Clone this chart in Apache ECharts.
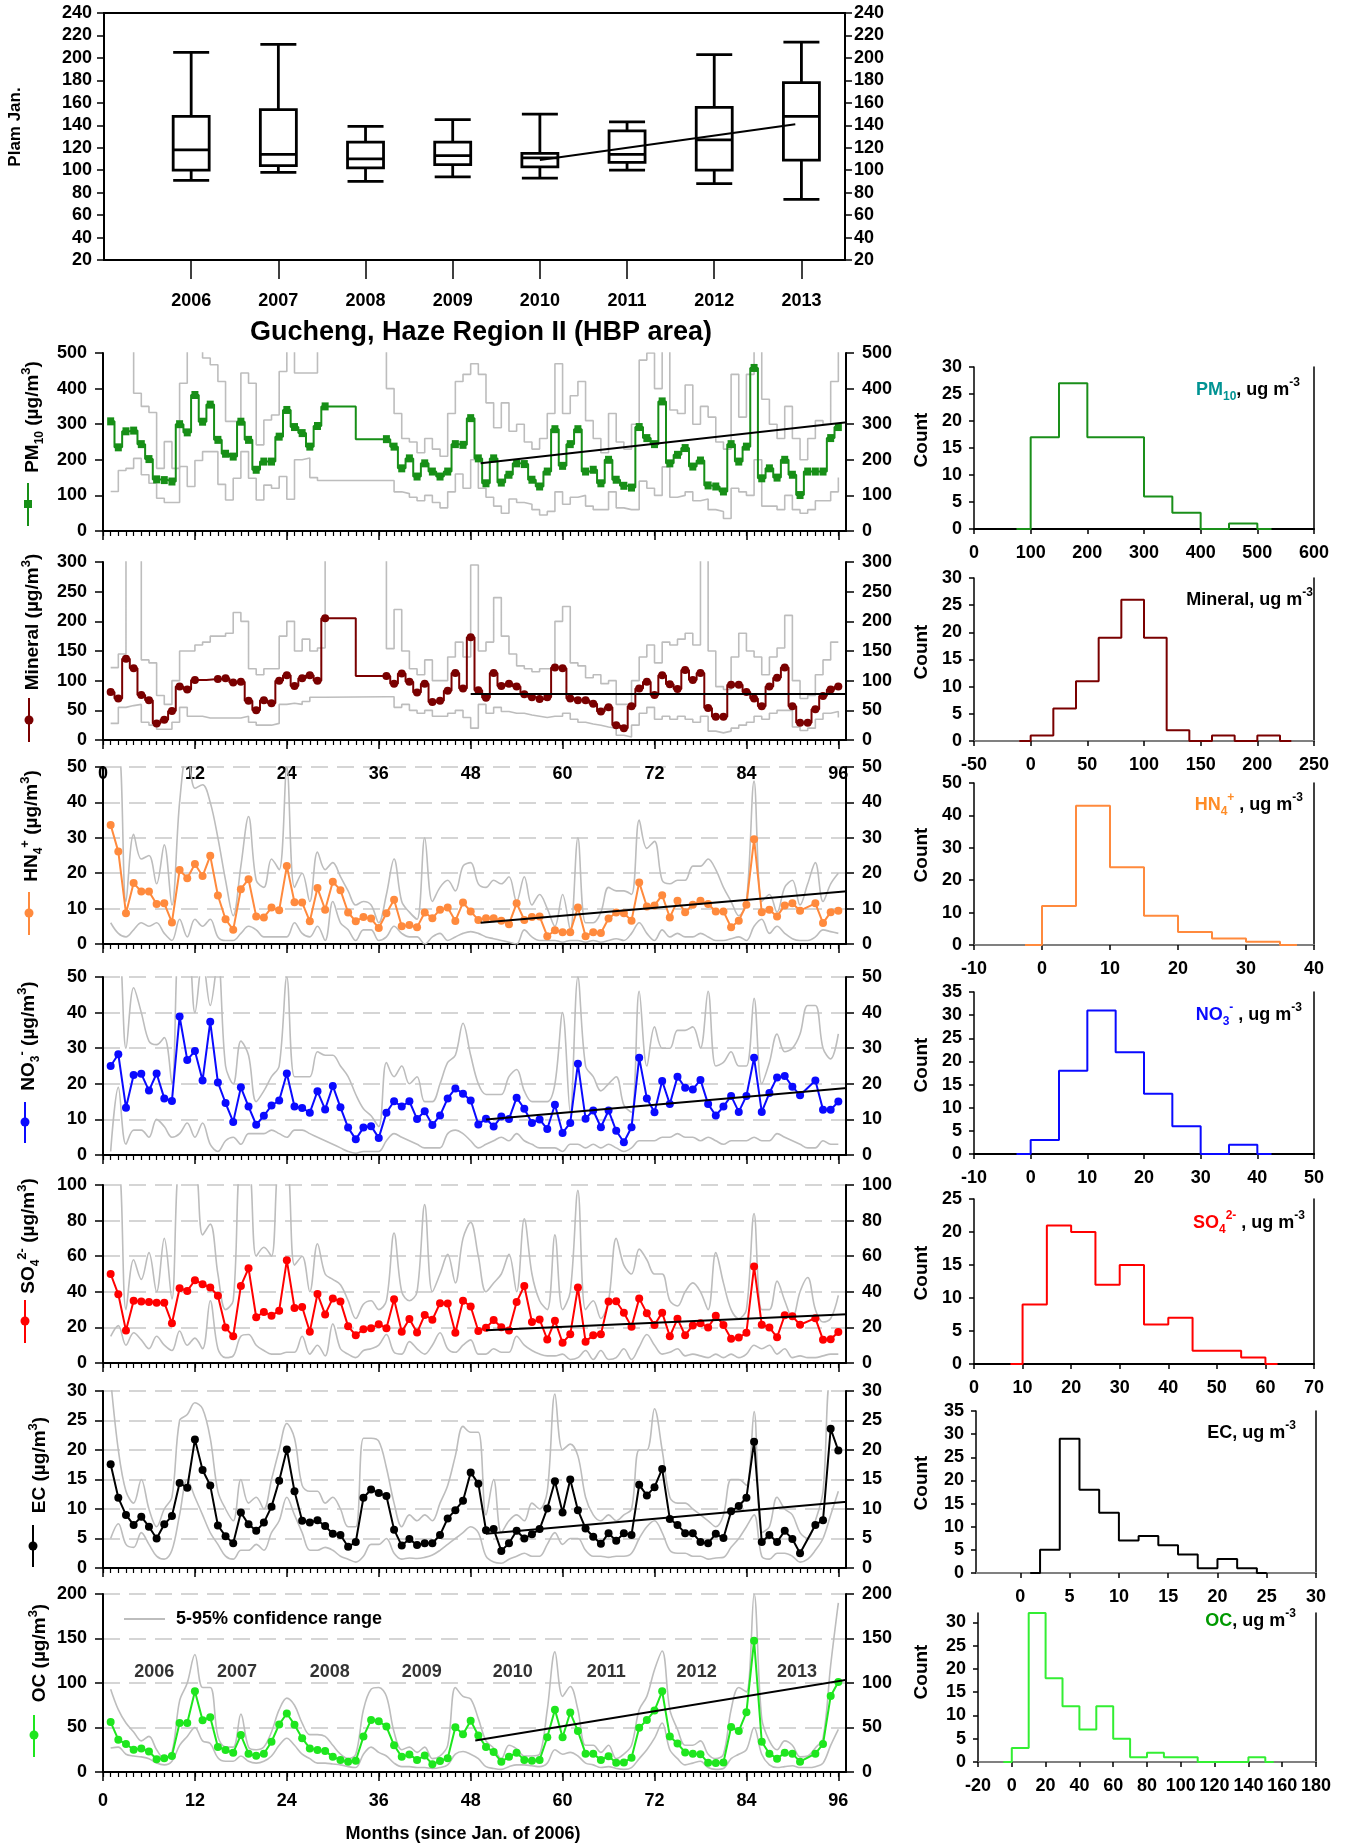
<!DOCTYPE html>
<html>
<head>
<meta charset="utf-8">
<script src="https://cdn.jsdelivr.net/npm/echarts@6/dist/echarts.min.js"></script>
<style>
html, body { margin: 0; padding: 0; background: #fff; }
#chart { width: 1346px; height: 1845px; }
</style>
</head>
<body>
<div id="chart"></div>
<script>
// ---- top box plot (January PM) ----
var boxYears = [2006, 2007, 2008, 2009, 2010, 2011, 2012, 2013];
var boxLow = [91, 98, 90, 94, 93, 100, 88, 74];
var boxQ1 = [100, 104, 102, 105, 103, 107, 100, 109];
var boxMedian = [118, 114, 110, 113, 111, 114, 127, 148];
var boxQ3 = [148, 154, 125, 125, 115, 135, 156, 178];
var boxHigh = [205, 212, 139, 145, 150, 143, 203, 214];
var boxTrend = [[2010, 109], [2012.93, 141]];

// ---- monthly series, months 1..96 ----
var monthTicks = [0, 12, 24, 36, 48, 60, 72, 84, 96];
var yearNames = ['2006', '2007', '2008', '2009', '2010', '2011', '2012', '2013'];
var yearNameMonths = [6.7, 17.5, 29.6, 41.6, 53.5, 65.7, 77.5, 90.6];

var pm10Values = [308,235,280,282,244,202,145,143,139,300, 277,382,307,355,256,217,209,307,256,172,
  195,195,265,340,292,275,237,295,350,null, null,null,null,null,null,null,258,237,176,204,
  153,190,167,153,167,244,242,317,204,134, 204,136,158,190,188,144,125,167,286,183,
  244,286,167,172,134,200,144,127,122,292, 261,244,364,190,214,233,181,198,128,125,
  111,244,195,237,458,148,176,150,200,158, 101,167,167,167,261,292];
var pm10Upper = [560,560,560,387,350,333,176,251,176,415, 560,560,486,467,420,308,308,444,415,242,
  312,326,448,560,444,444,444,560,560,null, null,null,null,null,null,null,400,330,260,250,
  220,260,230,210,330,420,440,470,440,360, 290,360,280,300,250,230,260,330,470,330,
  380,420,310,260,220,330,250,230,300,480, 500,400,560,340,330,410,300,350,320,250,
  230,440,320,440,560,370,300,260,350,260, 200,260,310,300,420,560];
var pm10Lower = [111,170,176,204,158,134,92,80,80,181, 125,198,223,223,131,87,148,223,148,87,
  129,120,153,89,200,205,150,142,142,null, null,null,null,null,null,null,142,110,105,95,
  85,100,80,65,110,160,120,200,120,95, 70,50,90,80,75,60,45,55,110,75,
  95,100,70,60,60,110,65,60,60,140, 120,100,180,95,100,110,85,90,60,55,
  35,120,110,100,200,70,70,60,100,60, 50,60,85,85,110,150];
var pm10Trend = [[49.3, 190], [98.3, 308]];

var mineralValues = [81,70,137,121,76,67,28,34,49,90, 85,101,null,null,103,104,97,98,66,50,
  67,62,100,109,91,104,109,100,205,null, null,null,null,null,null,null,108,95,112,98,
  80,95,64,66,83,113,87,173,84,71, 113,91,95,90,77,72,69,72,122,121,
  70,67,67,61,48,55,25,20,57,87, 98,76,109,94,86,118,101,113,54,39,
  39,93,93,81,70,57,90,105,122,57, 29,29,52,74,85,90];
var mineralUpper = [122,145,400,400,135,130,75,60,100,150, 150,160,165,175,175,180,215,200,120,110,
  120,120,175,200,150,170,150,155,360,null, null,null,null,null,null,null,154,220,150,120,
  110,135,100,100,140,165,140,295,150,165, 240,175,145,125,120,115,120,120,200,225,
  130,125,105,110,95,100,60,60,100,140, 160,130,165,160,170,180,160,400,150,90,
  85,140,180,150,140,110,140,155,210,100, 70,75,110,135,165,165];
var mineralLower = [28,55,58,60,30,25,18,18,30,55, 40,40,37,37,37,37,37,40,30,25,
  25,28,60,62,60,65,72,72,73,null, null,null,null,null,null,null,73,55,60,50,
  45,50,40,40,45,50,38,20,60,45, 55,48,45,45,42,40,38,40,40,45,
  35,30,27,25,22,20,8,5,25,45, 55,35,40,35,40,35,30,40,15,12,
  15,20,25,30,40,35,45,50,50,22, 16,20,35,45,48,38];
var mineralTrend = [[48, 77.5], [98.3, 77.5]];

var nh4Values = [33.6,26.1,8.7,17.2,14.8,14.8,11.3,11.5,6.1,20.9, 18.6,22.6,19.2,24.9,13.7,7.0,4.0,15.5,18.3,7.8,
  7.5,10.3,9.5,22.0,11.8,11.7,6.4,15.8,9.7,17.6, 15.2,8.9,6.4,7.6,7.2,4.5,8.7,12.5,5.0,5.4,
  4.7,8.9,7.3,9.7,10.3,6.5,11.7,9.2,6.8,7.3, 7.3,6.6,5.6,11.5,6.8,7.6,7.8,2.2,3.9,3.3,
  3.3,10.3,2.2,3.3,3.1,7.2,8.9,8.7,6.6,17.4, 10.6,10.9,13.8,7.5,12.2,9.0,11.1,12.2,11.3,9.2,
  9.2,4.7,6.6,11.1,29.6,9.0,9.7,7.8,10.9,11.5, 9.4,null,11.5,5.9,9.0,9.4];
var nh4Upper = [55,55,12,31,24,25,17,28,11,40, 55,44,45,40,30,18,8,22,36,18,
  16,24,21,50,16,20,12,26,21,23, 19,15,11,12,11,6,14,24,12,9,
  7,30,12,16,18,15,22,23,17,16, 18,17,19,12,19,11,14,10,5,14,
  4,30,6,6,9,16,15,15,14,35, 27,29,18,17,18,18,22,22,24,21,
  16,12,8,12,46,12,14,9,16,18, 11,17,23,12,17,20];
var nh4Lower = [6,3,2,4,6,5,6,3,1,7, 2,7,5,7,2,1,1,3,5,4,
  2,2,2,2,6,3,2,5,1,12, 6,4,1,4,4,1,2,5,3,2,
  2,0,2,3,1,2,3,3.5,3,2, 1.5,1,0.5,0,4,2,1,1,1,0.5,
  1,1,0.5,1,0.5,1,1.5,1,3,6, 3,1,4,2,3,2,2,3,2,1,
  1,1.5,2,1,5,7,3,5,3,1.5, 1,1,2,4,3.5,3];
var nh4Trend = [[49.3, 6.0], [98.2, 15.1]];

var no3Values = [25.0,28.3,13.3,22.5,22.8,18.1,22.9,15.9,15.2,38.9, 26.7,29.2,20.9,37.4,20.4,14.6,9.3,19.0,13.6,8.5,
  11.0,13.9,15.3,22.9,13.6,13.2,11.9,17.9,12.8,19.4, 13.4,7.7,4.4,7.7,8.1,4.8,11.9,15.1,13.6,15.1,
  10.1,12.3,8.4,11.1,15.9,18.7,17.2,15.3,8.6,10.2, 8.0,10.8,10.1,16.1,13.0,9.0,10.0,7.3,14.1,6.2,
  9.0,25.6,10.2,12.5,7.8,12.5,6.8,3.6,7.8,27.3, 15.9,12.0,20.8,14.3,22.0,18.9,18.4,21.1,14.3,11.1,
  13.6,16.6,12.1,16.6,27.3,12.1,17.4,21.8,22.2,19.2, 16.8,null,20.9,12.7,12.7,15.0];
var no3Upper = [55,60,30,47,40,32,31,33,20,60, 60,40,55,42,55,25,20,32,28,15,
  18,22,25,50,22,22,22,29,28,28, 25,22,17,13,11,8,26,22,25,20,
  22,15,15,20,26,28,37,28,20,17, 17,17,22,24,18,15,15,15,20,40,
  12,50,25,22,18,20,22,14,12,46, 25,36,30,30,35,35,36,30,46,25,
  26,29,25,25,44,20,26,34,29,30, 34,42,42,30,27,34];
var no3Lower = [1,19,3,7,7,5,10,8,5,6, 9,5,9,3,1,4,5,3,6,6,
  6,7,6,5,7,7,6,5,4,3, 2,1,0.5,1,1,1,4,6,5,4,
  3,2,2,2,6,7,6,4,2,3, 4,5,4,6,4,3,2,2,2,1,
  3,3,2,3,2,3,2,1,2,4, 4,4,5,5,6,5,5,4,5,4,
  3,4,4,4,5,4,4,6,5,4, 3,2,2,4,3,3];
var no3Trend = [[50, 10.0], [97.6, 18.9]];

var so4Values = [50,38.6,18.2,35.0,34.5,34.3,33.9,33.9,22.3,42.0, 40.5,46.5,44.3,42.4,37.8,19.9,15.0,43.3,53.2,25.7,
  28.7,26.6,29.4,57.7,30.9,31.5,17.6,38.8,27.3,36.3, 34.5,20.6,15.6,19.0,19.5,21.8,19.5,35.8,17.6,24.7,
  17.1,27.0,24.3,33.6,33.4,17.0,35.0,31.7,18.0,19.8, 24.1,20.1,18.3,34.3,43.3,23.0,24.5,13.2,23.8,11.4,
  16.1,42.4,12.0,15.6,16.1,34.5,34.7,28.2,20.3,36.3, 28.0,21.3,28.3,15.0,24.8,15.6,21.1,22.4,19.9,26.6,
  21.3,13.6,14.3,17.0,54.2,21.5,20.0,14.4,26.8,26.2, 21.5,null,25.2,13.0,13.3,17.4];
var so4Upper = [110,110,30,58,47,62,40,70,36,110, 110,110,72,78,50,30,35,110,110,60,
  65,60,110,110,55,60,40,67,50,47, 44,35,25,33,35,30,35,73,40,35,
  40,89,40,50,61,45,70,79,60,40, 45,50,61,40,81,50,35,30,72,30,
  40,97,30,35,25,35,70,55,50,64, 58,50,50,35,32,40,45,40,30,62,
  45,30,25,30,84,30,30,46,35,25, 40,48,30,23,25,38];
var so4Lower = [15,21,10,17,13,8,15,10,7,18, 10,14,8,35,8,3,4,15,16,10,
  7,5,5,6,6,15,5,10,4,22, 8,5,3,7,8,10,16,6,5,12,
  8,5,10,17,8,6,10,13,5,5, 8,6,6,15,10,7,5,4,4,5,
  2,3,7,2,7,2,3,8,2,9, 16,10,5,6,8,4,5,4,3,5,
  3,5,3,5,10,8,10,5,8,3, 4,3,3,4,5,5];
var so4Trend = [[50, 18.4], [98.4, 27.6]];

var ecValues = [17.6,11.9,9.0,7.3,8.7,7.0,5.0,7.4,8.8,14.4, 13.6,21.8,16.6,14.0,7.2,5.4,4.2,9.4,7.4,6.3,
  7.7,10.4,14.8,20.1,13.0,8.0,7.7,8.1,7.1,5.8, 5.6,3.6,4.4,11.9,13.3,12.7,12.2,6.5,3.8,4.9,
  3.9,4.2,4.2,5.6,8.4,9.8,11.4,16.2,14.3,6.4, 6.6,2.9,4.2,6.3,5.0,5.7,6.6,10.1,14.7,9.4,
  15.0,9.8,6.7,5.3,4.1,5.9,4.6,5.9,5.6,14.1, 12.3,13.7,16.8,8.3,7.3,5.9,5.9,4.4,4.2,5.8,
  5.1,9.6,10.5,11.9,21.4,4.4,5.6,4.4,6.3,4.9, 2.5,null,7.3,8.1,23.6,19.9];
var ecUpper = [32,20,13,11,15,10,7,10,12,25, 26,28,27,22,13,10,8,15,11,12,
  10,15,20,24.5,22,14,13,13,11,12, 10,7,7,22,22,21.5,17,11,7,9,
  8,9,8,11,14,19,24,23,23,9, 15,6,8,9,8,11,10,13,29.5,20,
  21,19,12,9,8,9,8,9,10,20, 20,27,20,12,11,11,10,9,8,7,
  9,15,15,14,26.5,6,7,12,10,9, 6,5,8,13,32,32];
var ecLower = [5,7.5,4,3.5,6,4,2,1.5,3,9, 15,12,9,6,4,2,1.5,3,3,4,
  3,6,8,12,9,6,3,3,3.5,3, 2,1.5,1,2,4,4,5,2.5,1.5,1.7,
  1.6,1.8,2.2,3,4,5,6,7,6,2, 1,0.8,1.5,2,2.5,2,2,4,6,4,
  5,5,3,2,2,1.8,2,2,2.5,5, 7,8,6,3,2.5,2.5,2,2,1.5,1.7,
  1.8,3.5,5,7,9,2,1.5,2.5,2.5,2, 1,1.5,3,5,9,13];
var ecTrend = [[50, 5.8], [97.6, 11.3]];

var ocValues = [56.1,36.3,31.4,25.0,26.5,23.0,14.3,15.5,18.1,55.0, 55.0,90.7,58.1,61.5,28.2,24.7,21.7,41.5,20.6,18.3,
  20.6,34.0,53.5,65.7,53.2,38.0,26.5,24.7,23.7,17.0, 13.6,11.6,12.7,39.8,58.5,57.0,51.0,30.0,17.0,19.8,
  13.6,18.5,8.6,12.5,15.5,50.2,42.5,57.7,41.0,28.2, 22.4,11.6,17.0,21.7,13.6,12.7,13.6,39.0,70.0,39.0,
  66.8,46.0,20.6,20.6,13.6,17.8,10.3,10.6,16.1,49.7, 58.3,69.0,90.7,40.0,32.0,22.0,20.6,20.0,10.3,10.0,
  10.6,50.5,46.0,67.0,147.6,34.0,20.6,15.0,21.7,20.6, 11.6,null,20.6,31.4,85.5,101];
var ocUpper = [93,70,55,45,35,40,25,15,22,80, 100,132,95,95,40,28,28,65,28,25,
  28,45,70,83,75,55,42,42,40,30, 20,15,20,70,93,95,85,45,25,28,
  22,28,15,18,30,95,85,82,60,35, 27,15,30,26,18,18,20,70,135,85,
  96,70,30,30,22,30,15,20,30,70, 85,115,136,70,48,30,30,35,20,15,
  20,70,95,90,200,60,35,25,35,30, 17,18,27,38,120,190];
var ocLower = [27,28,20,18,17,15,10,8,12,30, 40,50,35,32,16,12,12,18,12,10,
  12,18,30,38,30,20,15,10,10,9, 8,6,5,20,28,22,18,10,6,6,
  5,5,4,5,8,20,23,20,15,6, 4,3,6,8,8,7,6,10,25,20,
  22,18,10,8,5,6,4,3,5,15, 25,38,55,25,15,8,10,12,5,3,
  4,15,20,25,50,20,8,5,6,7, 5,5,6,10,30,48];
var ocTrend = [[48.6, 35.5], [98.4, 105.4]];

// ---- histograms: bin edges and counts ----
var pm10HistEdges = [100, 150, 200, 250, 300, 350, 400, 450, 500];
var pm10HistCounts = [17, 27, 17, 17, 6, 3, 0, 1];
var mineralHistEdges = [0, 20, 40, 60, 80, 100, 120, 140, 160, 180, 200, 220];
var mineralHistCounts = [1, 6, 11, 19, 26, 19, 2, 0, 1, 0, 1];
var nh4HistEdges = [0, 5, 10, 15, 20, 25, 30, 35];
var nh4HistCounts = [12, 43, 24, 9, 4, 2, 1];
var no3HistEdges = [0, 5, 10, 15, 20, 25, 30, 35, 40];
var no3HistCounts = [3, 18, 31, 22, 13, 6, 0, 2];
var so4HistEdges = [10, 15, 20, 25, 30, 35, 40, 45, 50, 55, 60];
var so4HistCounts = [9, 21, 20, 12, 15, 6, 7, 2, 2, 1];
var ecHistEdges = [2, 4, 6, 8, 10, 12, 14, 16, 18, 20, 22, 24];
var ecHistCounts = [5, 29, 18, 13, 7, 8, 6, 4, 1, 3, 1];
var ocHistEdges = [0, 10, 20, 30, 40, 50, 60, 70, 80, 90, 100, 110, 120, 130, 140, 150];
var ocHistCounts = [3, 32, 18, 12, 7, 12, 5, 1, 2, 1, 1, 0, 0, 0, 1];

var FONT = "'Liberation Sans', Arial, Helvetica, sans-serif";
var labelStyle = { color: '#000', fontSize: 18, fontWeight: 'bold', fontFamily: FONT };

function range(a, b, s) {
  var out = [];
  for (var v = a; v <= b + 1e-9; v += s) out.push(Math.round(v * 100) / 100);
  return out;
}
function monthly(vals) {
  return vals.map(function (v, i) { return [i + 1, v]; });
}
function histSteps(edges, counts) {
  var half = (edges[1] - edges[0]) / 2;
  var pts = [[edges[0] - half, 0]];
  counts.forEach(function (c, i) { pts.push([edges[i], c]); });
  pts.push([edges[edges.length - 1], 0]);
  pts.push([edges[edges.length - 1] + half, 0]);
  return pts;
}
function ext(a, b) { return Object.assign({}, a, b); }

var grids = [], xAxes = [], yAxes = [], series = [], graphics = [];
var allMonths = range(0, 96, 1);

// ---- box plot grid ----
grids.push({ left: 104, width: 741, top: 13, height: 247, show: true, borderColor: '#000', borderWidth: 2 });
xAxes.push({
  gridIndex: 0, type: 'value', min: 2005, max: 2013.5, position: 'bottom',
  axisLine: { onZero: false, lineStyle: { color: '#000', width: 2 } },
  axisTick: { customValues: boxYears, length: 19, lineStyle: { color: '#000', width: 1.5 } },
  axisLabel: ext(labelStyle, { customValues: boxYears, margin: 32, formatter: function (v) { return String(v); } }),
  splitLine: { show: false }
});
['left', 'right'].forEach(function (pos) {
  yAxes.push({
    gridIndex: 0, type: 'value', min: 20, max: 240, interval: 20, position: pos,
    axisLine: { show: true, onZero: false, lineStyle: { color: '#000', width: 2 } },
    axisTick: { show: true, length: 7, lineStyle: { color: '#000', width: 1.5 } },
    axisLabel: ext(labelStyle, { margin: pos === 'left' ? 12 : 9 }),
    splitLine: { show: false }
  });
});
series.push({
  type: 'custom', xAxisIndex: 0, yAxisIndex: 0,
  data: boxYears.map(function (y, i) { return [y, boxLow[i], boxQ1[i], boxMedian[i], boxQ3[i], boxHigh[i]]; }),
  encode: { x: 0, y: [1, 2, 3, 4, 5] },
  renderItem: function (params, api) {
    var x = api.value(0);
    var lo = api.coord([x, api.value(1)]), q1 = api.coord([x, api.value(2)]);
    var md = api.coord([x, api.value(3)]), q3 = api.coord([x, api.value(4)]);
    var hi = api.coord([x, api.value(5)]);
    var hw = 18, st = { stroke: '#000', lineWidth: 2.8, fill: null };
    function ln(x1, y1, x2, y2) { return { type: 'line', shape: { x1: x1, y1: y1, x2: x2, y2: y2 }, style: st }; }
    return {
      type: 'group', children: [
        ln(lo[0], lo[1], q1[0], q1[1]), ln(q3[0], q3[1], hi[0], hi[1]),
        ln(lo[0] - hw, lo[1], lo[0] + hw, lo[1]), ln(hi[0] - hw, hi[1], hi[0] + hw, hi[1]),
        { type: 'rect', shape: { x: q3[0] - hw, y: q3[1], width: 2 * hw, height: q1[1] - q3[1] }, style: { stroke: '#000', lineWidth: 2.8, fill: 'none' } },
        ln(md[0] - hw, md[1], md[0] + hw, md[1])
      ]
    };
  },
  z: 3
});
series.push({ type: 'line', xAxisIndex: 0, yAxisIndex: 0, data: boxTrend, symbol: 'none', lineStyle: { color: '#000', width: 2 }, z: 4 });

// ---- time series panels ----
var panels = [
  { top: 353, height: 178, max: 500, interval: 100, color: '#178f17', symbol: 'rect', size: [7, 8], step: true, values: pm10Values, upper: pm10Upper, lower: pm10Lower, trend: pm10Trend, dashed: false,
    title: '{b|PM}{sub|10}{b| (µg/m}{sup|3}{b|)}', tx: 33, ty: 417, sx: 28, sy: [483, 526], sm: 504 },
  { top: 562, height: 178, max: 300, interval: 50, color: '#7a0000', symbol: 'circle', size: 8, step: true, values: mineralValues, upper: mineralUpper, lower: mineralLower, trend: mineralTrend, dashed: false,
    title: '{b|Mineral (µg/m}{sup|3}{b|)}', tx: 33, ty: 622, sx: 29, sy: [698, 742], sm: 720 },
  { top: 767, height: 177, max: 50, interval: 10, color: '#ff8a3d', symbol: 'circle', size: 8, step: false, values: nh4Values, upper: nh4Upper, lower: nh4Lower, trend: nh4Trend, dashed: true, topLabels: true,
    title: '{b|HN}{sub|4}{sup|+}{b| (µg/m}{sup|3}{b|)}', tx: 32, ty: 826, sx: 29, sy: [892, 935], sm: 913 },
  { top: 977, height: 178, max: 50, interval: 10, color: '#0a0aff', symbol: 'circle', size: 8, step: false, values: no3Values, upper: no3Upper, lower: no3Lower, trend: no3Trend, dashed: true,
    title: '{b|NO}{sub|3}{sup|-}{b| (µg/m}{sup|3}{b|)}', tx: 29, ty: 1036, sx: 25, sy: [1102, 1143], sm: 1122 },
  { top: 1185, height: 178, max: 100, interval: 20, color: '#ff0000', symbol: 'circle', size: 8, step: false, values: so4Values, upper: so4Upper, lower: so4Lower, trend: so4Trend, dashed: true,
    title: '{b|SO}{sub|4}{sup|2-}{b| (µg/m}{sup|3}{b|)}', tx: 29, ty: 1236, sx: 25, sy: [1300, 1343], sm: 1321 },
  { top: 1391, height: 177, max: 30, interval: 5, color: '#000000', symbol: 'circle', size: 8, step: false, values: ecValues, upper: ecUpper, lower: ecLower, trend: ecTrend, dashed: true,
    title: '{b|EC (µg/m}{sup|3}{b|)}', tx: 40, ty: 1465, sx: 33, sy: [1525, 1567], sm: 1546 },
  { top: 1594, height: 178, max: 200, interval: 50, color: '#1ee61e', symbol: 'circle', size: 8, step: false, values: ocValues, upper: ocUpper, lower: ocLower, trend: ocTrend, dashed: true, bottomLabels: true, yearText: true,
    title: '{b|OC (µg/m}{sup|3}{b|)}', tx: 40, ty: 1653, sx: 34, sy: [1715, 1757], sm: 1735 }
];

var titleRich = {
  b: { fontSize: 19, fontWeight: 'bold', fontFamily: FONT, lineHeight: 26, verticalAlign: 'middle', fill: '#000' },
  sub: { fontSize: 12, fontWeight: 'bold', fontFamily: FONT, lineHeight: 12, verticalAlign: 'bottom', fill: '#000' },
  sup: { fontSize: 13, fontWeight: 'bold', fontFamily: FONT, lineHeight: 12, verticalAlign: 'top', fill: '#000' }
};

panels.forEach(function (p) {
  var g = grids.length;
  grids.push({ left: 103, width: 743, top: p.top, height: p.height });
  var xi = xAxes.length;
  xAxes.push({
    gridIndex: g, type: 'value', min: 0, max: 97, position: 'bottom',
    axisLine: { onZero: false, lineStyle: { color: '#000', width: 2 } },
    axisTick: { customValues: allMonths, length: 5, lineStyle: { color: '#000', width: 1.2 } },
    axisLabel: { show: false }, splitLine: { show: false }
  });
  xAxes.push({
    gridIndex: g, type: 'value', min: 0, max: 97, position: 'bottom',
    axisLine: { show: false, onZero: false },
    axisTick: { customValues: monthTicks, length: 9, lineStyle: { color: '#000', width: 1.5 } },
    axisLabel: p.bottomLabels ? ext(labelStyle, { customValues: monthTicks, margin: 20 }) : { show: false },
    splitLine: { show: false }
  });
  if (p.topLabels) {
    xAxes.push({
      gridIndex: g, type: 'value', min: 0, max: 97, position: 'top',
      axisLine: { show: false, onZero: false }, axisTick: { show: false },
      axisLabel: ext(labelStyle, { customValues: monthTicks, inside: true, margin: -2 }),
      splitLine: { show: false }
    });
  }
  var yi = yAxes.length;
  ['left', 'right'].forEach(function (pos) {
    yAxes.push({
      gridIndex: g, type: 'value', min: 0, max: p.max, interval: p.interval, position: pos,
      axisLine: { show: true, onZero: false, lineStyle: { color: '#000', width: 2 } },
      axisTick: { show: true, length: 8, lineStyle: { color: '#000', width: 1.5 } },
      axisLabel: ext(labelStyle, { margin: 16 }),
      splitLine: { show: pos === 'left' && p.dashed, lineStyle: { color: '#c8c8c8', width: 1.6, type: [17, 9] } }
    });
  });
  [p.upper, p.lower].forEach(function (b) {
    series.push({
      type: 'line', xAxisIndex: xi, yAxisIndex: yi, data: monthly(b), symbol: 'none',
      step: p.step ? 'end' : false, smooth: p.step ? false : 0.35, connectNulls: true,
      lineStyle: { color: '#bdbdbd', width: 1.6 }, silent: true, z: 2
    });
  });
  series.push({
    type: 'line', xAxisIndex: xi, yAxisIndex: yi, data: monthly(p.values),
    symbol: p.symbol, symbolSize: p.size, showAllSymbol: true,
    step: p.step ? 'middle' : false, connectNulls: true,
    lineStyle: { color: p.color, width: 2 }, itemStyle: { color: p.color, borderWidth: 0 }, z: 3
  });
  series.push({
    type: 'line', xAxisIndex: xi, yAxisIndex: yi, data: p.trend, symbol: 'none', clip: false,
    lineStyle: { color: '#000', width: 2 }, z: 4
  });
  if (p.yearText) {
    series.push({
      type: 'scatter', xAxisIndex: xi, yAxisIndex: yi, symbolSize: 0,
      data: yearNames.map(function (n, i) { return { name: n, value: [yearNameMonths[i], 112] }; }),
      label: ext(labelStyle, { show: true, position: 'inside', formatter: '{b}' }), z: 5
    });
  }
  graphics.push({ type: 'text', x: p.tx, y: p.ty, rotation: Math.PI / 2,
    style: { text: p.title, rich: titleRich, align: 'center', verticalAlign: 'middle' } });
  graphics.push({ type: 'line', shape: { x1: p.sx, y1: p.sy[0], x2: p.sx, y2: p.sy[1] }, style: { stroke: p.color, lineWidth: 2 } });
  if (p.symbol === 'rect') {
    graphics.push({ type: 'rect', shape: { x: p.sx - 4, y: p.sm - 4, width: 8, height: 8 }, style: { fill: p.color } });
  } else {
    graphics.push({ type: 'circle', shape: { cx: p.sx, cy: p.sm, r: 4.5 }, style: { fill: p.color } });
  }
});

// ---- histograms ----
var hists = [
  { left: 974, width: 340, top: 367, height: 162, xmin: 0, xmax: 600, xstep: 100, xfrom: 0, ymax: 30, ystep: 5, yto: 30, color: '#1a8f1a', axisColor: '#000', edges: pm10HistEdges, counts: pm10HistCounts,
    label: '{c|PM}{cs|10}{k|, ug m}{sup|-3}', lc: '#009393', lx: 1300, ly: 390, cy: 440 },
  { left: 974, width: 340, top: 578, height: 163, xmin: -50, xmax: 250, xstep: 50, xfrom: -50, ymax: 30, ystep: 5, yto: 30, color: '#7a0000', axisColor: '#808080', edges: mineralHistEdges, counts: mineralHistCounts,
    label: '{k|Mineral, ug m}{sup|-3}', lc: '#000', lx: 1313, ly: 600, cy: 652 },
  { left: 974, width: 340, top: 783, height: 162, xmin: -10, xmax: 40, xstep: 10, xfrom: -10, ymax: 50, ystep: 10, yto: 50, color: '#ff8a3d', axisColor: '#808080', edges: nh4HistEdges, counts: nh4HistCounts,
    label: '{c|HN}{cs|4}{csup|+}{k| , ug m}{sup|-3}', lc: '#ff8c26', lx: 1303, ly: 805, cy: 855 },
  { left: 974, width: 340, top: 992, height: 162, xmin: -10, xmax: 50, xstep: 10, xfrom: -10, ymax: 35, ystep: 5, yto: 35, color: '#0a0aff', axisColor: '#000', edges: no3HistEdges, counts: no3HistCounts,
    label: '{c|NO}{cs|3}{csup|-}{k| , ug m}{sup|-3}', lc: '#0a0aff', lx: 1302, ly: 1015, cy: 1065 },
  { left: 974, width: 340, top: 1199, height: 165, xmin: 0, xmax: 70, xstep: 10, xfrom: 0, ymax: 25, ystep: 5, yto: 25, color: '#ff0000', axisColor: '#000', edges: so4HistEdges, counts: so4HistCounts,
    label: '{c|SO}{cs|4}{csup|2-}{k| , ug m}{sup|-3}', lc: '#ff0000', lx: 1305, ly: 1223, cy: 1273 },
  { left: 976, width: 340, top: 1411, height: 162, xmin: -4.5, xmax: 30, xstep: 5, xfrom: 0, ymax: 35, ystep: 5, yto: 35, color: '#000', axisColor: '#808080', edges: ecHistEdges, counts: ecHistCounts,
    label: '{k|EC, ug m}{sup|-3}', lc: '#000', lx: 1296, ly: 1433, cy: 1483 },
  { left: 978, width: 338, top: 1613, height: 149, xmin: -20, xmax: 180, xstep: 20, xfrom: -20, ymax: 32, ystep: 5, yto: 30, color: '#33ee33', axisColor: '#808080', edges: ocHistEdges, counts: ocHistCounts,
    label: '{c|OC}{k|, ug m}{sup|-3}', lc: '#009900', lx: 1296, ly: 1621, cy: 1672 }
];

hists.forEach(function (h) {
  var g = grids.length;
  grids.push({ left: h.left, width: h.width, top: h.top, height: h.height });
  var xi = xAxes.length;
  var xt = range(h.xfrom, h.xmax, h.xstep), yt = range(0, h.yto, h.ystep);
  xAxes.push({
    gridIndex: g, type: 'value', min: h.xmin, max: h.xmax, position: 'bottom',
    axisLine: { onZero: false, lineStyle: { color: h.axisColor, width: 2 } },
    axisTick: { customValues: xt, length: 5, lineStyle: { color: '#000', width: 1.5 } },
    axisLabel: ext(labelStyle, { customValues: xt, margin: 15 }),
    splitLine: { show: false }
  });
  var yi = yAxes.length;
  yAxes.push({
    gridIndex: g, type: 'value', min: 0, max: h.ymax, position: 'left',
    axisLine: { show: true, onZero: false, lineStyle: { color: '#000', width: 1.5 } },
    axisTick: { show: true, customValues: yt, length: 5, lineStyle: { color: '#000', width: 1.5 } },
    axisLabel: ext(labelStyle, { customValues: yt, margin: 12 }),
    splitLine: { show: false }
  });
  yAxes.push({
    gridIndex: g, type: 'value', min: 0, max: h.ymax, position: 'right',
    axisLine: { show: true, onZero: false, lineStyle: { color: '#000', width: 1.5 } },
    axisTick: { show: false }, axisLabel: { show: false }, splitLine: { show: false }
  });
  series.push({
    type: 'line', xAxisIndex: xi, yAxisIndex: yi, data: histSteps(h.edges, h.counts), step: 'end',
    symbol: 'none', lineStyle: { color: h.color, width: 2 }, z: 3
  });
  graphics.push({ type: 'text', x: 922, y: h.cy, rotation: Math.PI / 2,
    style: { text: 'Count', fontSize: 19, fontWeight: 'bold', fontFamily: FONT, fill: '#000', align: 'center', verticalAlign: 'middle' } });
  graphics.push({ type: 'text', x: h.lx, y: h.ly,
    style: { text: h.label, align: 'right', verticalAlign: 'middle', rich: {
      c: { fontSize: 18, fontWeight: 'bold', fontFamily: FONT, fill: h.lc, lineHeight: 26, verticalAlign: 'middle' },
      cs: { fontSize: 12, fontWeight: 'bold', fontFamily: FONT, fill: h.lc, lineHeight: 12, verticalAlign: 'bottom' },
      csup: { fontSize: 12, fontWeight: 'bold', fontFamily: FONT, fill: h.lc, lineHeight: 12, verticalAlign: 'top' },
      k: { fontSize: 18, fontWeight: 'bold', fontFamily: FONT, fill: '#000', lineHeight: 26, verticalAlign: 'middle' },
      sup: { fontSize: 12, fontWeight: 'bold', fontFamily: FONT, fill: '#000', lineHeight: 12, verticalAlign: 'top' }
    } } });
});

// ---- free texts ----
graphics.push({ type: 'text', x: 481, y: 333,
  style: { text: 'Gucheng, Haze Region II (HBP area)', fontSize: 27, fontWeight: 'bold', fontFamily: FONT, fill: '#000', align: 'center', verticalAlign: 'middle' } });
graphics.push({ type: 'text', x: 15, y: 127, rotation: Math.PI / 2,
  style: { text: 'Plam Jan.', fontSize: 17, fontWeight: 'bold', fontFamily: FONT, fill: '#000', align: 'center', verticalAlign: 'middle' } });
graphics.push({ type: 'text', x: 463, y: 1834,
  style: { text: 'Months (since Jan. of 2006)', fontSize: 18, fontWeight: 'bold', fontFamily: FONT, fill: '#000', align: 'center', verticalAlign: 'middle' } });
graphics.push({ type: 'line', shape: { x1: 124, y1: 1619, x2: 165, y2: 1619 }, style: { stroke: '#bdbdbd', lineWidth: 2 } });
graphics.push({ type: 'text', x: 176, y: 1619,
  style: { text: '5-95% confidence range', fontSize: 18, fontWeight: 'bold', fontFamily: FONT, fill: '#000', align: 'left', verticalAlign: 'middle' } });

var chart = echarts.init(document.getElementById('chart'));
chart.setOption({
  animation: false,
  backgroundColor: '#fff',
  textStyle: { fontFamily: FONT },
  grid: grids,
  xAxis: xAxes,
  yAxis: yAxes,
  series: series,
  graphic: graphics
});
</script>
</body>
</html>
